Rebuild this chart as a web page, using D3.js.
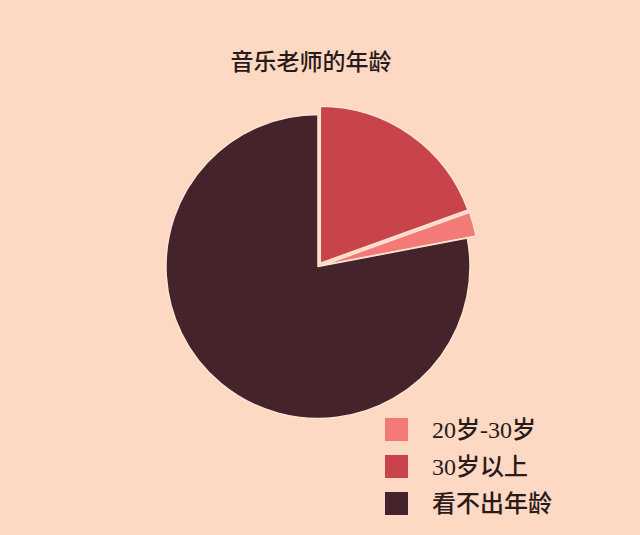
<!DOCTYPE html>
<html>
<head>
<meta charset="utf-8">
<script src="https://cdn.jsdelivr.net/npm/d3@7"></script>
<style>
  html, body { margin: 0; padding: 0; background: #fdd8c3; }
  svg { display: block; }
</style>
</head>
<body>
<svg width="640" height="535"></svg>
<script>
// data
var categories = ["20岁-30岁", "30岁以上", "看不出年龄"];
var values = [2.5, 19.5, 78];
var colors = ["#f47a78", "#c9434a", "#45232a"];
var exploded = [true, true, false];
// order the slices go round the pie, clockwise from the top
var sliceOrder = [1, 0, 2];
var title = "音乐老师的年龄";

var svg = d3.select("svg"),
  width = +svg.attr("width"),
  height = +svg.attr("height");

var bg = "#fdd8c3";
var font = "'Liberation Serif', 'Noto Sans CJK SC', serif";

svg.append("rect").attr("width", width).attr("height", height).attr("fill", bg);

svg.append("text")
  .attr("x", 311).attr("y", 62)
  .attr("text-anchor", "middle")
  .attr("dominant-baseline", "central")
  .attr("font-family", font)
  .attr("font-size", 23)
  .attr("font-weight", 500)
  .attr("fill", "#2a1a1a")
  .text(title);

var cx = 318, cy = 266.5, radius = 152;

var pie = d3.pie().sort(null).value(function(i) { return values[i]; });
var arcs = pie(sliceOrder);

var g = svg.append("g").attr("transform", "translate(" + cx + "," + cy + ")");

g.selectAll("path").data(arcs).enter()
  .append("path")
  .attr("transform", function(d) {
    if (!exploded[d.data]) return null;
    var mid = (d.startAngle + d.endAngle) / 2;
    return "translate(" + (4 * Math.sin(mid)) + "," + (-4 * Math.cos(mid)) + ")";
  })
  .attr("d", function(d) {
    var r = exploded[d.data] ? radius + 5 : radius;
    return d3.arc().innerRadius(0).outerRadius(r)(d);
  })
  .attr("fill", function(d) { return colors[d.data]; })
  .attr("stroke", "#fde3d3")
  .attr("stroke-width", 1.5)
  .attr("stroke-linejoin", "round");

// legend
var lg = svg.append("g").attr("transform", "translate(385,418)");
lg.selectAll("rect").data(categories).enter()
  .append("rect")
  .attr("y", function(d, i) { return i * 37; })
  .attr("width", 23).attr("height", 23)
  .attr("fill", function(d, i) { return colors[i]; });
lg.selectAll("text").data(categories).enter()
  .append("text")
  .attr("x", 47)
  .attr("y", function(d, i) { return i * 37 + 12; })
  .attr("dominant-baseline", "central")
  .attr("font-family", font)
  .attr("font-size", 24)
  .attr("font-weight", 500)
  .attr("fill", "#2a1a1a")
  .text(function(d) { return d; });
</script>
</body>
</html>
